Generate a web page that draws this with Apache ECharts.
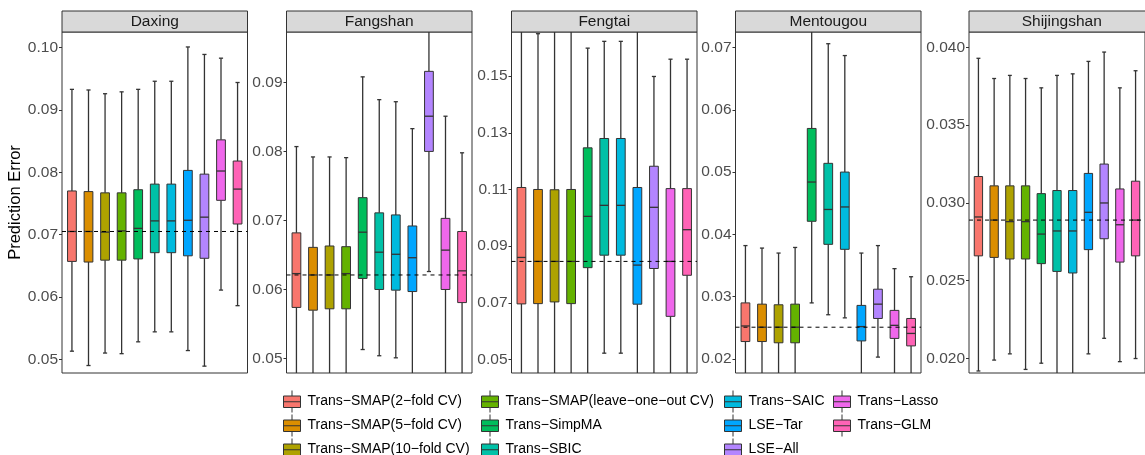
<!DOCTYPE html>
<html>
<head>
<meta charset="utf-8">
<title>Prediction Error by District</title>
<script src="https://cdn.jsdelivr.net/npm/echarts@6/dist/echarts.min.js"></script>
<style>
  html, body { margin: 0; padding: 0; background: #fff; }
  #chart { width: 1145px; height: 455px; }
</style>
</head>
<body>
<div id="chart"></div>
<script>
// Methods compared, in legend / plotting order
const methods = [
  'Trans\u2212SMAP(2\u2212fold CV)',
  'Trans\u2212SMAP(5\u2212fold CV)',
  'Trans\u2212SMAP(10\u2212fold CV)',
  'Trans\u2212SMAP(leave\u2212one\u2212out CV)',
  'Trans\u2212SimpMA',
  'Trans\u2212SBIC',
  'Trans\u2212SAIC',
  'LSE\u2212Tar',
  'LSE\u2212All',
  'Trans\u2212Lasso',
  'Trans\u2212GLM'
];
const colors = ['#F8766D', '#DB8E00', '#AEA200', '#64B200', '#00BD5C', '#00C1A7',
                '#00BADE', '#00A6FF', '#B385FF', '#EF67EB', '#FF63B6'];

const districts = ['Daxing', 'Fangshan', 'Fengtai', 'Mentougou', 'Shijingshan'];

// Box summaries per method: [lower whisker, Q1, median, Q3, upper whisker]
const daxing = [
  [0.0513, 0.0657, 0.0705, 0.0770, 0.0933],
  [0.0490, 0.0656, 0.0705, 0.0769, 0.0932],
  [0.0510, 0.0659, 0.0704, 0.0767, 0.0926],
  [0.0509, 0.0659, 0.0706, 0.0767, 0.0929],
  [0.0528, 0.0661, 0.0710, 0.0772, 0.0933],
  [0.0544, 0.0671, 0.0722, 0.0781, 0.0946],
  [0.0544, 0.0671, 0.0722, 0.0781, 0.0946],
  [0.0514, 0.0666, 0.0723, 0.0803, 0.1001],
  [0.0489, 0.0662, 0.0728, 0.0797, 0.0989],
  [0.0611, 0.0755, 0.0802, 0.0852, 0.0983],
  [0.0586, 0.0717, 0.0773, 0.0818, 0.0944]
];
const fangshan = [
  [0.0455, 0.0574, 0.0623, 0.0682, 0.0807],
  [0.0450, 0.0570, 0.0621, 0.0661, 0.0792],
  [0.0452, 0.0572, 0.0621, 0.0663, 0.0792],
  [0.0452, 0.0572, 0.0623, 0.0662, 0.0791],
  [0.0513, 0.0616, 0.0683, 0.0733, 0.0908],
  [0.0504, 0.0600, 0.0654, 0.0711, 0.0875],
  [0.0501, 0.0599, 0.0651, 0.0708, 0.0872],
  [0.0460, 0.0597, 0.0646, 0.0692, 0.0833],
  [0.0626, 0.0800, 0.0851, 0.0916, 0.1020],
  [0.0455, 0.0600, 0.0657, 0.0703, 0.0851],
  [0.0455, 0.0581, 0.0627, 0.0684, 0.0798]
];
const fengtai = [
  [0.0400, 0.0696, 0.0860, 0.1107, 0.1720],
  [0.0400, 0.0697, 0.0846, 0.1100, 0.1650],
  [0.0400, 0.0703, 0.0846, 0.1099, 0.1720],
  [0.0400, 0.0697, 0.0846, 0.1100, 0.1720],
  [0.0440, 0.0824, 0.1005, 0.1247, 0.1599],
  [0.0522, 0.0868, 0.1044, 0.1280, 0.1623],
  [0.0522, 0.0868, 0.1044, 0.1280, 0.1623],
  [0.0400, 0.0695, 0.0833, 0.1107, 0.1720],
  [0.0400, 0.0821, 0.1037, 0.1182, 0.1499],
  [0.0400, 0.0652, 0.0846, 0.1103, 0.1560],
  [0.0400, 0.0797, 0.0958, 0.1103, 0.1560]
];
const mentougou = [
  [0.0160, 0.0228, 0.0253, 0.0290, 0.0382],
  [0.0160, 0.0228, 0.0251, 0.0288, 0.0378],
  [0.0160, 0.0226, 0.0251, 0.0287, 0.0370],
  [0.0160, 0.0226, 0.0251, 0.0288, 0.0379],
  [0.0290, 0.0421, 0.0484, 0.0570, 0.0760],
  [0.0271, 0.0384, 0.0440, 0.0514, 0.0706],
  [0.0266, 0.0376, 0.0444, 0.0500, 0.0687],
  [0.0160, 0.0229, 0.0252, 0.0286, 0.0370],
  [0.0203, 0.0265, 0.0288, 0.0312, 0.0382],
  [0.0160, 0.0233, 0.0254, 0.0278, 0.0345],
  [0.0160, 0.0221, 0.0241, 0.0265, 0.0332]
];
const shijingshan = [
  [0.0192, 0.0266, 0.0291, 0.0317, 0.0393],
  [0.0199, 0.0265, 0.0289, 0.0311, 0.0380],
  [0.0203, 0.0264, 0.0288, 0.0311, 0.0382],
  [0.0193, 0.0264, 0.0288, 0.0311, 0.0380],
  [0.0197, 0.0261, 0.0280, 0.0306, 0.0374],
  [0.0185, 0.0256, 0.0282, 0.0308, 0.0382],
  [0.0185, 0.0255, 0.0282, 0.0308, 0.0383],
  [0.0203, 0.0270, 0.0294, 0.0319, 0.0391],
  [0.0213, 0.0277, 0.0300, 0.0325, 0.0397],
  [0.0198, 0.0262, 0.0286, 0.0309, 0.0374],
  [0.0200, 0.0266, 0.0289, 0.0314, 0.0385]
];

// Visible y range of each panel and its tick labels
const yLimits = [
  [0.0478, 0.1025],
  [0.0479, 0.0973],
  [0.0452, 0.1656],
  [0.01775, 0.07248],
  [0.01907, 0.04099]
];
const daxingTicks = ['0.05', '0.06', '0.07', '0.08', '0.09', '0.10'];
const fangshanTicks = ['0.05', '0.06', '0.07', '0.08', '0.09'];
const fengtaiTicks = ['0.05', '0.07', '0.09', '0.11', '0.13', '0.15'];
const mentougouTicks = ['0.02', '0.03', '0.04', '0.05', '0.06', '0.07'];
const shijingshanTicks = ['0.020', '0.025', '0.030', '0.035', '0.040'];

// The dashed reference line sits at the median of the 5-fold CV method
const REFERENCE_METHOD = 1;

const panelStats = [daxing, fangshan, fengtai, mentougou, shijingshan];
const panelTicks = [daxingTicks, fangshanTicks, fengtaiTicks, mentougouTicks, shijingshanTicks];

// ---- layout ----
const FONT = 'Liberation Sans, Arial, Helvetica, sans-serif';
const PANEL_LEFT = [62, 286.5, 511.5, 735.5, 969];
const PANEL_WIDTH = 185.5;
const PANEL_TOP = 32;
const PANEL_HEIGHT = 341;
const STRIP_TOP = 11;
const STRIP_HEIGHT = 21;
const BOX_WIDTH = 0.53;   // in category units
const CAP_WIDTH = 0.25;
const X_PAD = 0.6;
const X_MIN = -X_PAD;
const X_MAX = methods.length - 1 + X_PAD;
const LEGEND_COLUMNS = [[0, 1, 2], [3, 4, 5], [6, 7, 8], [9, 10]];
const LEGEND_LEFT = [283, 481, 724, 833];
const LEGEND_TOP = 390;

const INK = '#333333';

function renderBox(params, api) {
  const x = api.value(0);
  const lo = api.value(1), q1 = api.value(2), med = api.value(3), q3 = api.value(4), hi = api.value(5);
  const pHi = api.coord([x, hi]);
  const pLo = api.coord([x, lo]);
  const pQ3 = api.coord([x, q3]);
  const pQ1 = api.coord([x, q1]);
  const pMed = api.coord([x, med]);
  const bw = api.size([BOX_WIDTH, 0])[0];
  const cw = api.size([CAP_WIDTH, 0])[0];
  const cx = pHi[0];
  const whisker = { stroke: INK, lineWidth: 1.3 };
  return {
    type: 'group',
    children: [
      { type: 'line', shape: { x1: cx, y1: pHi[1], x2: cx, y2: pQ3[1] }, style: whisker },
      { type: 'line', shape: { x1: cx, y1: pQ1[1], x2: cx, y2: pLo[1] }, style: whisker },
      { type: 'line', shape: { x1: cx - cw / 2, y1: pHi[1], x2: cx + cw / 2, y2: pHi[1] }, style: whisker },
      { type: 'line', shape: { x1: cx - cw / 2, y1: pLo[1], x2: cx + cw / 2, y2: pLo[1] }, style: whisker },
      {
        type: 'rect',
        shape: { x: cx - bw / 2, y: pQ3[1], width: bw, height: pQ1[1] - pQ3[1] },
        style: { fill: api.visual('color'), stroke: INK, lineWidth: 1 }
      },
      { type: 'line', shape: { x1: cx - bw / 2, y1: pMed[1], x2: cx + bw / 2, y2: pMed[1] }, style: { stroke: INK, lineWidth: 1.3 } }
    ]
  };
}

const grids = [], xAxes = [], yAxes = [], series = [], graphics = [];

districts.forEach((name, p) => {
  grids.push({
    left: PANEL_LEFT[p], top: PANEL_TOP, width: PANEL_WIDTH, height: PANEL_HEIGHT,
    show: true, backgroundColor: '#ffffff', borderColor: INK, borderWidth: 1
  });
  xAxes.push({
    type: 'value', gridIndex: p, min: X_MIN, max: X_MAX, show: false,
    axisLine: { onZero: false }
  });
  const ticks = panelTicks[p];
  const tickValues = ticks.map(Number);
  yAxes.push({
    type: 'value', gridIndex: p,
    position: 'left',
    min: yLimits[p][0], max: yLimits[p][1],
    splitLine: { show: false },
    axisLine: { show: false, onZero: false },
    axisTick: { show: true, length: 3, lineStyle: { color: INK, width: 1 }, customValues: tickValues },
    axisLabel: {
      customValues: tickValues,
      formatter: v => {
        const hit = ticks.find(t => Math.abs(Number(t) - v) < 1e-9);
        return hit !== undefined ? hit : '';
      },
      color: '#4D4D4D', fontSize: 15.5, fontFamily: FONT, margin: 4
    },
    name: p === 0 ? 'Prediction Error' : '',
    nameLocation: 'middle',
    nameGap: 35,
    nameTextStyle: { color: '#000000', fontSize: 16.5, fontFamily: FONT }
  });

  panelStats[p].forEach((s, m) => {
    series.push({
      type: 'custom',
      name: methods[m],
      xAxisIndex: p, yAxisIndex: p,
      clip: true,
      itemStyle: { color: colors[m] },
      encode: { x: 0, y: [1, 2, 3, 4, 5] },
      data: [[m].concat(s)],
      renderItem: renderBox,
      z: 2
    });
  });

  // dashed reference across the whole panel
  const ref = panelStats[p][REFERENCE_METHOD][2];
  series.push({
    type: 'line',
    xAxisIndex: p, yAxisIndex: p,
    data: [[X_MIN, ref], [X_MAX, ref]],
    showSymbol: false,
    symbol: 'none',
    silent: true,
    z: 5,
    lineStyle: { color: '#000000', width: 1, type: [4, 4] }
  });

  // facet strip with the district name
  graphics.push({
    type: 'rect',
    shape: { x: PANEL_LEFT[p], y: STRIP_TOP, width: PANEL_WIDTH, height: STRIP_HEIGHT },
    style: { fill: '#D9D9D9', stroke: INK, lineWidth: 1 }
  });
  graphics.push({
    type: 'text',
    style: {
      text: name,
      x: PANEL_LEFT[p] + PANEL_WIDTH / 2,
      y: STRIP_TOP + STRIP_HEIGHT / 2 + 0.5,
      textAlign: 'center',
      textVerticalAlign: 'middle',
      font: '15.5px ' + FONT,
      fill: '#1A1A1A'
    }
  });
});

// Legend key: a small box with its median bar and whiskers
const KEY_ICON = 'path://M8.5,0L8.5,5.5M0,5.5L17,5.5L17,17L0,17ZM0,11.25L17,11.25M8.5,17L8.5,22';

const legends = LEGEND_COLUMNS.map((col, c) => ({
  orient: 'vertical',
  left: LEGEND_LEFT[c],
  top: LEGEND_TOP,
  height: 90,
  padding: 0,
  itemWidth: 17,
  itemHeight: 22,
  itemGap: 1,
  icon: KEY_ICON,
  selectedMode: false,
  itemStyle: { borderColor: INK, borderWidth: 1 },
  textStyle: { fontSize: 14, fontFamily: FONT, color: '#000000', padding: [0, 0, 0, 2] },
  data: col.map(i => methods[i])
}));

const chart = echarts.init(document.getElementById('chart'), null, { renderer: 'canvas' });
chart.setOption({
  animation: false,
  backgroundColor: '#ffffff',
  textStyle: { fontFamily: FONT },
  grid: grids,
  xAxis: xAxes,
  yAxis: yAxes,
  legend: legends,
  graphic: graphics,
  series: series
});
</script>
</body>
</html>
